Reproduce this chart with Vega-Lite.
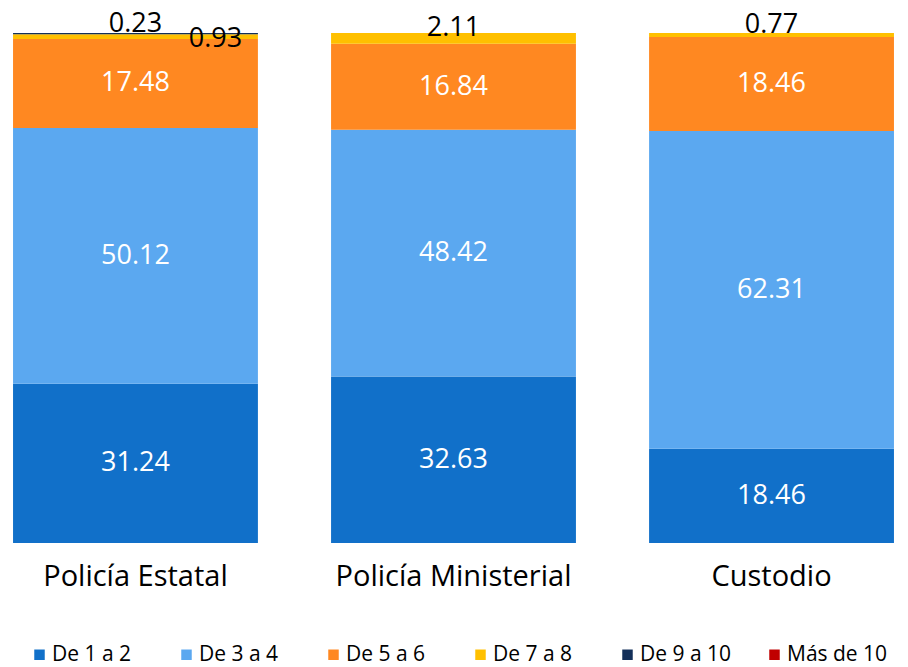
{
  "$schema": "https://vega.github.io/schema/vega-lite/v6.json",
  "width": 907,
  "height": 510,
  "autosize": {"type": "none"},
  "padding": {"left": 0, "top": 33, "right": 1, "bottom": 124},
  "background": "white",
  "config": {"view": {"stroke": null}, "font": "Open Sans"},
  "data": {"values": [
    {"grupo": "Policía Estatal", "cat": "De 1 a 2", "orden": 1, "valor": 31.24},
    {"grupo": "Policía Estatal", "cat": "De 3 a 4", "orden": 2, "valor": 50.12},
    {"grupo": "Policía Estatal", "cat": "De 5 a 6", "orden": 3, "valor": 17.48},
    {"grupo": "Policía Estatal", "cat": "De 7 a 8", "orden": 4, "valor": 0.93},
    {"grupo": "Policía Estatal", "cat": "De 9 a 10", "orden": 5, "valor": 0.23},
    {"grupo": "Policía Ministerial", "cat": "De 1 a 2", "orden": 1, "valor": 32.63},
    {"grupo": "Policía Ministerial", "cat": "De 3 a 4", "orden": 2, "valor": 48.42},
    {"grupo": "Policía Ministerial", "cat": "De 5 a 6", "orden": 3, "valor": 16.84},
    {"grupo": "Policía Ministerial", "cat": "De 7 a 8", "orden": 4, "valor": 2.11},
    {"grupo": "Custodio", "cat": "De 1 a 2", "orden": 1, "valor": 18.46},
    {"grupo": "Custodio", "cat": "De 3 a 4", "orden": 2, "valor": 62.31},
    {"grupo": "Custodio", "cat": "De 5 a 6", "orden": 3, "valor": 18.46},
    {"grupo": "Custodio", "cat": "De 7 a 8", "orden": 4, "valor": 0.77}
  ]},
  "transform": [
    {"stack": "valor", "groupby": ["grupo"], "sort": [{"field": "orden", "order": "ascending"}], "as": ["y0", "y1"]},
    {"calculate": "(datum.y0 + datum.y1) / 2", "as": "ymid"}
  ],
  "encoding": {
    "x": {"field": "grupo", "type": "nominal", "sort": ["Policía Estatal", "Policía Ministerial", "Custodio"],
      "scale": {"paddingInner": 0.23, "paddingOuter": 0.041},
      "axis": {"title": null, "labelAngle": 0, "labelFontSize": 29, "labelColor": "black", "ticks": false, "domain": false, "labelPadding": 19, "labelFont": "Open Sans", "labelLimit": 400}}
  },
  "layer": [
    {"mark": {"type": "bar"},
     "encoding": {
       "y": {"field": "y0", "type": "quantitative", "scale": {"domain": [0, 100], "nice": false}, "axis": null},
       "y2": {"field": "y1"},
       "color": {"field": "cat", "type": "nominal",
         "scale": {"domain": ["De 1 a 2", "De 3 a 4", "De 5 a 6", "De 7 a 8", "De 9 a 10", "Más de 10"],
                   "range": ["#1170C9", "#5BA8F0", "#FF8821", "#FFC000", "#13305A", "#C00000"]},
         "legend": {"title": null, "orient": "none", "legendX": 29, "legendY": 611, "direction": "horizontal", "columns": 6, "gridAlign": "all",
           "symbolType": "square", "symbolSize": 110, "symbolStrokeWidth": 0, "labelFontSize": 21, "labelColor": "black", "labelOffset": 2,
           "columnPadding": 23, "labelLimit": 200, "labelFont": "Open Sans"}}
     }},
    {"transform": [{"filter": "datum.valor >= 5"}],
     "mark": {"type": "text", "color": "white", "fontSize": 27, "baseline": "middle", "font": "Open Sans"},
     "encoding": {"y": {"field": "ymid", "type": "quantitative", "scale": {"domain": [0, 100], "nice": false}, "axis": null},
       "text": {"field": "valor", "type": "quantitative", "format": ".2f"}}},
    {"transform": [{"filter": "datum.valor < 5 && !(datum.grupo == 'Policía Estatal' && datum.cat == 'De 7 a 8')"}],
     "mark": {"type": "text", "color": "black", "fontSize": 27, "baseline": "middle", "dy": -10, "font": "Open Sans"},
     "encoding": {"y": {"field": "ymid", "type": "quantitative", "scale": {"domain": [0, 100], "nice": false}, "axis": null},
       "text": {"field": "valor", "type": "quantitative", "format": ".2f"}}},
    {"transform": [{"filter": "datum.grupo == 'Policía Estatal' && datum.cat == 'De 7 a 8'"}],
     "mark": {"type": "text", "color": "black", "fontSize": 27, "baseline": "middle", "dx": 80, "dy": 2, "font": "Open Sans"},
     "encoding": {"y": {"field": "ymid", "type": "quantitative", "scale": {"domain": [0, 100], "nice": false}, "axis": null},
       "text": {"field": "valor", "type": "quantitative", "format": ".2f"}}}
  ]
}
